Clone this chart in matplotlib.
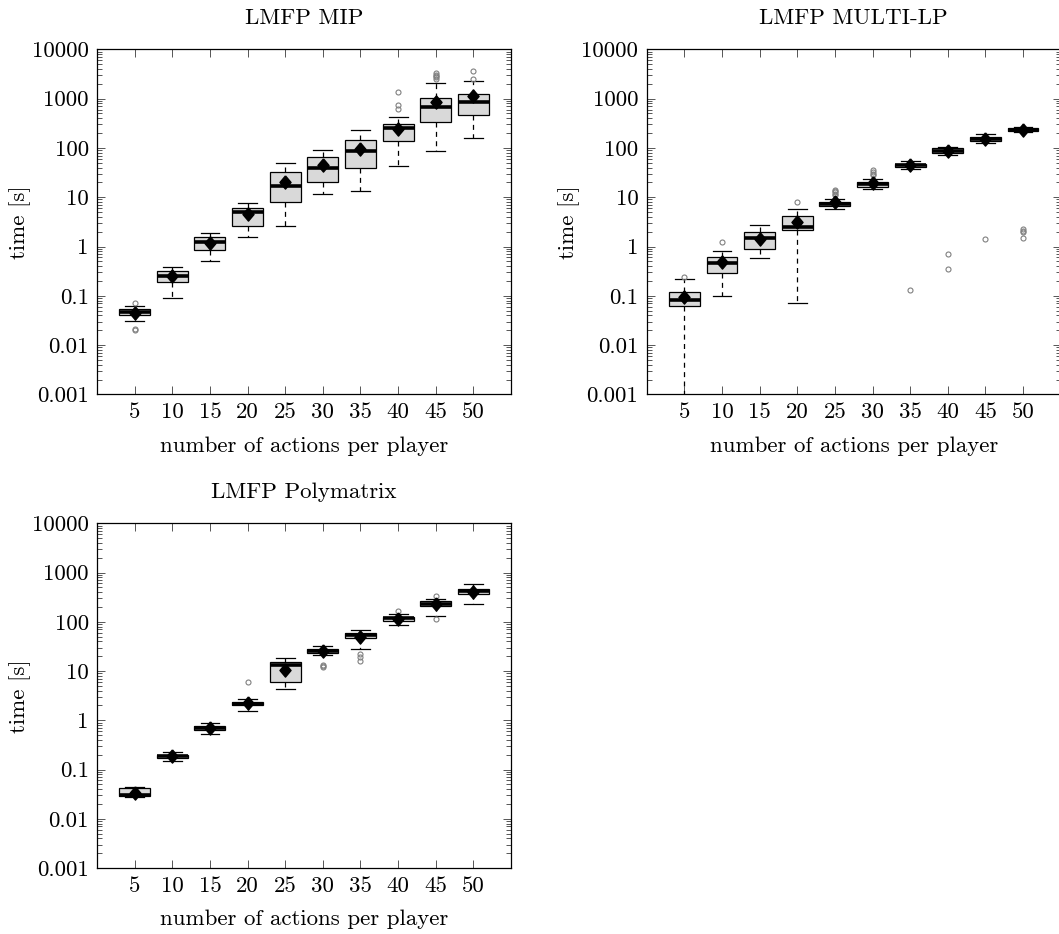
import matplotlib
matplotlib.use("Agg")
import matplotlib.pyplot as plt
from matplotlib.ticker import FixedLocator, FixedFormatter, LogLocator, NullFormatter

plt.rcParams["font.family"] = "cmr10"
plt.rcParams["axes.formatter.use_mathtext"] = True
plt.rcParams["font.size"] = 16.5

# %% Data
actions = [5, 10, 15, 20, 25, 30, 35, 40, 45, 50]

# LMFP MIP
mip_lo = [0.031, 0.092, 0.52, 1.58, 2.6, 11.8, 13.4, 42, 86, 159]
mip_q1 = [0.040, 0.19, 0.85, 2.57, 8.1, 20, 39.6, 140, 330, 458]
mip_med = [0.046, 0.256, 1.22, 5.1, 16.9, 39, 85, 253, 667, 841]
mip_q3 = [0.054, 0.314, 1.56, 6.1, 32, 66, 147, 310, 1042, 1240]
mip_hi = [0.061, 0.39, 1.85, 7.6, 48.7, 92, 227, 424, 2040, 2306]
mip_mean = [0.045, 0.25, 1.2, 4.6, 20.6, 45, 95, 245, 865, 1146]
mip_out = [[0.072, 0.021, 0.020], [], [], [], [], [], [],
           [1343, 751, 624], [3260, 3000, 2870, 2700, 2536], [3580, 2536]]

# LMFP MULTI-LP
mlp_lo = [0.0001, 0.1, 0.577, 0.071, 5.7, 14.5, 37, 71.8, 127, 210]
mlp_q1 = [0.061, 0.286, 0.877, 2.19, 6.6, 16.3, 41, 77.6, 138, 217]
mlp_med = [0.082, 0.456, 1.47, 2.45, 7.3, 18.5, 45, 86.5, 151, 234]
mlp_q3 = [0.121, 0.62, 1.94, 4.1, 8.1, 20.6, 48, 98, 169, 253]
mlp_hi = [0.216, 0.81, 2.73, 5.77, 9.3, 23.4, 54, 106, 191, 260]
mlp_mean = [0.096, 0.49, 1.4, 3.1, 8.1, 19, 45, 86, 155, 234]
mlp_out = [[0.244], [1.25], [], [7.9], [14.0, 13.2, 12.5, 11.8, 11.2],
           [35, 32, 30, 28], [0.133], [0.695, 0.355], [1.42], [2.3, 2.1, 1.97, 1.47]]

# LMFP Polymatrix
poly_lo = [0.028, 0.151, 0.525, 1.56, 4.3, 21, 28.6, 85, 132, 234]
poly_q1 = [0.029, 0.171, 0.632, 2.03, 5.85, 23.7, 47, 106, 207, 373]
poly_med = [0.031, 0.185, 0.695, 2.19, 13.4, 26, 55, 118, 234, 424]
poly_q3 = [0.042, 0.20, 0.763, 2.4, 15.1, 28.6, 60, 128, 265, 471]
poly_hi = [0.044, 0.226, 0.86, 2.69, 18.3, 32.9, 69.5, 144, 296, 596]
poly_mean = [0.034, 0.185, 0.7, 2.2, 10.6, 25, 50, 115, 225, 410]
poly_out = [[], [], [], [6.1], [], [13.4, 12.8, 12.3], [22.3, 19.7, 16.1],
            [166], [340, 116], []]

ytick_vals = [0.001, 0.01, 0.1, 1, 10, 100, 1000, 10000]
ytick_labels = ["0.001", "0.01", "0.1", "1", "10", "100", "1000", "10000"]

panels = [
    ("LMFP MIP", mip_lo, mip_q1, mip_med, mip_q3, mip_hi, mip_mean, mip_out),
    ("LMFP MULTI-LP", mlp_lo, mlp_q1, mlp_med, mlp_q3, mlp_hi, mlp_mean, mlp_out),
    ("LMFP Polymatrix", poly_lo, poly_q1, poly_med, poly_q3, poly_hi, poly_mean, poly_out),
]

W, H = 1059, 934
fig = plt.figure(figsize=(W / 100, H / 100), dpi=100)
rects = [
    [97 / W, 1 - 394.4 / H, 414 / W, 345.1 / H],
    [646.7 / W, 1 - 394.4 / H, 414 / W, 345.1 / H],
    [97 / W, 1 - 868 / H, 414 / W, 344.7 / H],
]

diamond = [(0, 1), (0.84, 0), (0, -1), (-0.84, 0), (0, 1)]

for rect, (title, lo, q1, med, q3, hi, mean, out) in zip(rects, panels):
    ax = fig.add_axes(rect)
    stats = []
    for i in range(len(actions)):
        stats.append(dict(whislo=lo[i], q1=q1[i], med=med[i], q3=q3[i],
                          whishi=hi[i], mean=mean[i], fliers=out[i]))
    ax.bxp(
        stats,
        positions=actions,
        widths=4.1,
        capwidths=2.5,
        showmeans=True,
        patch_artist=True,
        boxprops=dict(facecolor="#d9d9d9", edgecolor="black", linewidth=0.9),
        medianprops=dict(color="black", linewidth=2.6, solid_capstyle="butt"),
        whiskerprops=dict(color="black", linewidth=0.9, linestyle=(0, (4, 3.5))),
        capprops=dict(color="black", linewidth=0.9),
        flierprops=dict(marker="o", markersize=3.6, markerfacecolor="none",
                        markeredgecolor="#808080", markeredgewidth=0.8),
        meanprops=dict(marker=diamond, markersize=9.5, markerfacecolor="black",
                       markeredgecolor="black"),
    )
    ax.set_yscale("log")
    ax.set_ylim(0.001, 10000)
    ax.set_xlim(0, 55)
    ax.yaxis.set_major_locator(FixedLocator(ytick_vals))
    ax.yaxis.set_major_formatter(FixedFormatter(ytick_labels))
    ax.yaxis.set_minor_locator(LogLocator(base=10, subs=range(2, 10), numticks=20))
    ax.yaxis.set_minor_formatter(NullFormatter())
    ax.xaxis.set_major_locator(FixedLocator(actions))
    ax.xaxis.set_major_formatter(FixedFormatter([str(a) for a in actions]))
    ax.tick_params(which="both", direction="in", top=True, right=True,
                   color="#555555", width=0.7)
    ax.tick_params(which="major", length=6, pad=6, labelsize=16.5)
    ax.tick_params(which="minor", length=3.5)
    for s in ax.spines.values():
        s.set_linewidth(0.9)
    ax.set_title(title, pad=18, fontsize=16.5)
    ax.set_xlabel("number of actions per player", labelpad=10)
    ax.set_ylabel("time [s]")
    ax.yaxis.set_label_coords(-0.16, 0.5)

fig.savefig("out.png", dpi=100)
